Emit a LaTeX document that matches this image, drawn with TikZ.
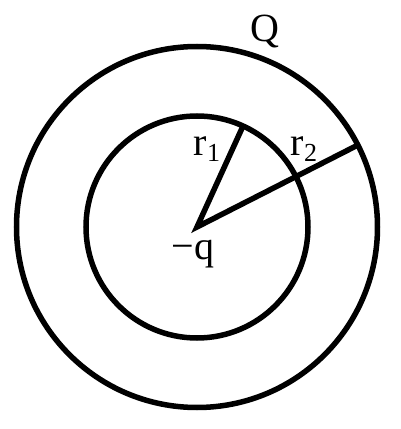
\documentclass[tikz,border=0pt]{standalone}
\usepackage{fontspec}
\setmainfont{Liberation Serif}
\usetikzlibrary{calc}
\newcommand{\lowsub}[1]{\raisebox{-6pt}{\fontsize{26}{26}\selectfont #1}}

\begin{document}
\begin{tikzpicture}[x=1pt, y=1pt,
	shell/.style={line width=5.5pt},
	lbl/.style={font=\fontsize{40}{42}\selectfont, inner sep=0pt}]
			%%%%% START %%%%%
			\useasboundingbox (0, 0) rectangle (400, 429);
			
			\coordinate (O) at (197, 202);
			\coordinate (R1) at ($(O)+(65.5:111)$);
			\coordinate (R2) at ($(O)+(27:180.5)$);
			
			\draw[shell] (O) circle (111);
			\draw[shell] (O) circle (180.5);
			
			\draw[shell, line join=miter] (R1) -- (O) -- (R2);
			
			\node[lbl] (Qlabel) at (265, 397) {Q};
			\node[lbl] (rone) at (207, 280) {r\lowsub{1}};
			\node[lbl] (rtwo) at (304, 280) {r\lowsub{2}};
			\node[lbl] (qlabel) at (193, 175) {−q};
			
			%%%%% END %%%%%
\end{tikzpicture}
\end{document}
